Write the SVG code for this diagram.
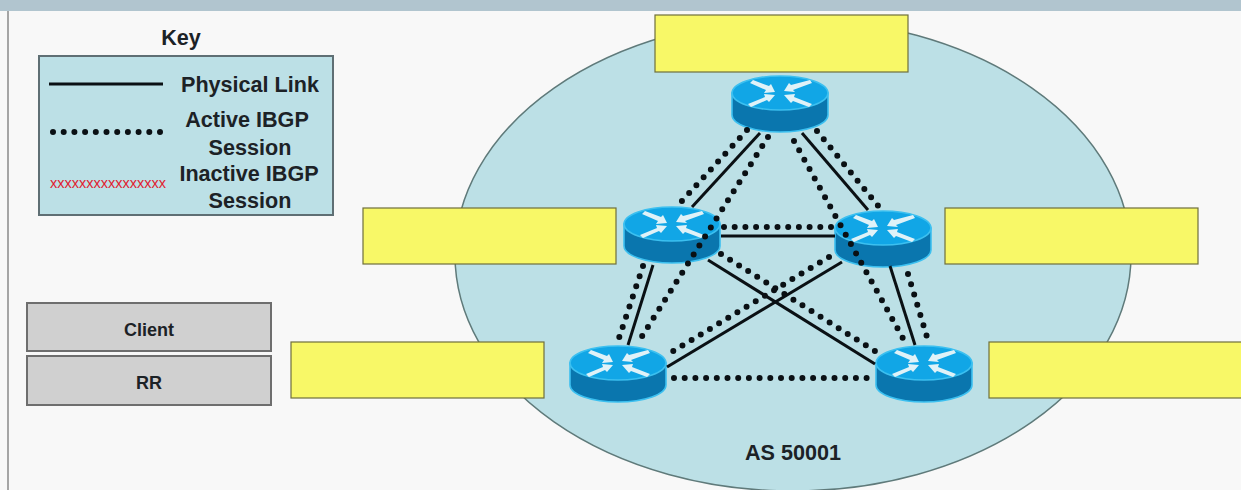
<svg xmlns="http://www.w3.org/2000/svg" width="1241" height="490" viewBox="0 0 1241 490">
<style>
text{font-family:"Liberation Sans",Arial,sans-serif;font-weight:700;fill:#1c2226;text-anchor:middle}
.k{font-size:21.6px}
.b{font-size:18px}
.y{fill:#f8f867;stroke:#6f6f3c;stroke-width:1.2}
.g{fill:#d0d0d0;stroke:#6e6e6e;stroke-width:2}
.s{stroke:#0a1014;stroke-width:3;fill:none}
.d{stroke:#0a1014;stroke-width:6;stroke-linecap:round;stroke-dasharray:0 10.7;fill:none}
</style>
<defs>
<g id="router">
<path d="M-48 0V22A48 17 0 0 0 48 22V0Z" fill="#0a76ae" stroke="#3cc0f0" stroke-width="1.6"/>
<ellipse cx="0" cy="0" rx="48" ry="17" fill="#11a6e6" stroke="#3cc0f0" stroke-width="1.6"/>
<g fill="#dff2f8">
<path d="M-30 -10L-27 -13L-11 -7L-9 -9L-5 -1L-16 0L-14 -3Z"/>
<path d="M32 -10L30 -13L11 -8L9 -10L4 -2L15 -1L13 -3Z"/>
<path d="M-32 11L-29 14L-13 7L-11 9L-5 2L-16 1L-15 4Z"/>
<path d="M32 11L29 14L13 8L11 10L4 2L15 1L14 4Z"/>
</g>
</g>
</defs>
<rect width="1241" height="490" fill="#f8f8f8"/>
<rect width="1241" height="11" fill="#b1c5cf"/>
<line x1="8" y1="11" x2="8" y2="490" stroke="#8a8a8a" stroke-width="1.5"/>
<g id="as-cloud">
<ellipse cx="793" cy="255" rx="338" ry="236" fill="#bce0e6" stroke="#5f7a7a" stroke-width="1.5"/>
<text class="k" x="793" y="460">AS 50001</text>
</g>
<g id="key">
<text class="k" x="181" y="45">Key</text>
<rect x="39" y="56" width="294" height="159" fill="#bce0e6" stroke="#5f6f74" stroke-width="2"/>
<line class="s" x1="49" y1="84" x2="163" y2="84"/>
<line class="d" x1="53" y1="132" x2="164" y2="132" stroke-dasharray="0 10.1"/>
<text x="108" y="188" font-size="14" style="font-weight:400;fill:#e02030" textLength="116" lengthAdjust="spacingAndGlyphs">xxxxxxxxxxxxxxxx</text>
<text class="k" x="250" y="92">Physical Link</text>
<text class="k" x="247" y="127">Active IBGP</text>
<text class="k" x="250" y="155">Session</text>
<text class="k" x="249" y="181">Inactive IBGP</text>
<text class="k" x="250" y="208">Session</text>
</g>
<g id="client"><rect class="g" x="27" y="303" width="244" height="48"/><text class="b" x="149" y="336">Client</text></g>
<g id="rr"><rect class="g" x="27" y="356" width="244" height="49"/><text class="b" x="149" y="389">RR</text></g>
<g id="label-top"><rect class="y" x="655" y="15" width="253" height="57"/></g>
<g id="label-left"><rect class="y" x="363" y="208" width="253" height="56"/></g>
<g id="label-right"><rect class="y" x="945" y="208" width="253" height="56"/></g>
<g id="label-bottom-left"><rect class="y" x="291" y="342" width="253" height="56"/></g>
<g id="label-bottom-right"><rect class="y" x="989" y="342" width="253" height="56"/></g>
<g id="router-top"><use href="#router" x="780" y="93"/></g>
<g id="router-left"><use href="#router" x="672" y="224"/></g>
<g id="router-right"><use href="#router" x="883" y="228"/></g>
<g id="router-bottom-left"><use href="#router" x="618" y="363"/></g>
<g id="router-bottom-right"><use href="#router" x="924" y="363"/></g>
<g id="connectors">
<line class="s" x1="760" y1="133" x2="692" y2="207"/>
<line class="s" x1="802" y1="133" x2="868" y2="210"/>
<line class="s" x1="721" y1="236" x2="835" y2="236"/>
<line class="s" x1="653" y1="265" x2="628" y2="345"/>
<line class="s" x1="890" y1="266" x2="915" y2="345"/>
<line class="s" x1="708" y1="260" x2="875" y2="364"/>
<line class="s" x1="842" y1="262" x2="667" y2="367"/>
<line class="d" x1="747" y1="130" x2="681" y2="202"/>
<line class="d" x1="768" y1="137" x2="639" y2="341"/>
<line class="d" x1="794" y1="141" x2="905" y2="342"/>
<line class="d" x1="817" y1="131" x2="879" y2="207"/>
<line class="d" x1="724" y1="227" x2="833" y2="227"/>
<line class="d" x1="643" y1="266" x2="619" y2="338"/>
<line class="d" x1="908" y1="274" x2="927" y2="337"/>
<line class="d" x1="721" y1="254" x2="878" y2="353"/>
<line class="d" x1="829" y1="257" x2="670" y2="353"/>
<line class="d" x1="674" y1="378" x2="870" y2="378"/>
</g>
</svg>
